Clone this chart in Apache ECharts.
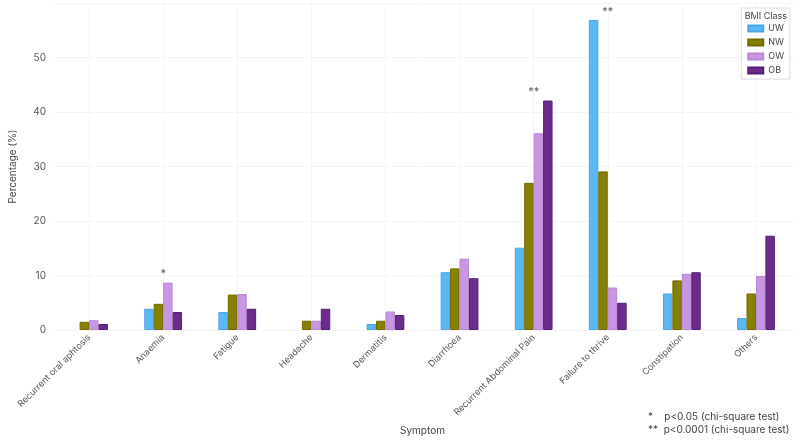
<!DOCTYPE html>
<html style="height:100%">
<head>
    <meta charset="utf-8">
    <title>BMI Class symptoms</title>
    <script src="https://cdn.jsdelivr.net/npm/echarts@6/dist/echarts.min.js"></script>
</head>
<body style="height:100%;margin:0">
    <div id="main" style="width:797px;height:441px;"></div>
    <script type="text/javascript">
        var symptoms = ['Recurrent oral aphtosis', 'Anaemia', 'Fatigue', 'Headache', 'Dermatitis',
            'Diarrhoea', 'Recurrent Abdominal Pain', 'Failure to thrive', 'Constipation', 'Others'];
        var uw = [0, 3.9, 3.3, 0, 1.1, 10.6, 15.1, 56.9, 6.7, 2.2];
        var nw = [1.5, 4.8, 6.5, 1.7, 1.7, 11.3, 27.0, 29.1, 9.1, 6.7];
        var ow = [1.8, 8.7, 6.6, 1.7, 3.4, 13.1, 36.1, 7.8, 10.3, 9.9];
        var ob = [1.1, 3.3, 3.9, 3.9, 2.75, 9.5, 42.1, 5.0, 10.6, 17.3];
        var sigMarks = ['', '*', '', '', '', '', '**', '**', '', ''];
        var yTicks = [0, 10, 20, 30, 40, 50];

        var classes = ['UW', 'NW', 'OW', 'OB'];
        var colors = ['#5bb8f6', '#878000', '#c896e2', '#6b2c8c'];
        var borders = ['#4aa6e6', '#6f6900', '#b988d6', '#561f75'];
        var values = [uw, nw, ow, ob];

        var myChart = echarts.init(document.getElementById('main'));
        var font = 'Inter, "Liberation Sans", sans-serif';

        var series = classes.map(function (name, k) {
            return {
                name: name,
                type: 'bar',
                barGap: '0%',
                barCategoryGap: '49%',
                itemStyle: {
                    color: colors[k],
                    borderColor: borders[k],
                    borderWidth: 1
                },
                // zero-height bars are left empty so no border line is drawn
                data: values[k].map(function (v) { return v === 0 ? '-' : v; })
            };
        });

        // significance markers above each group's tallest bar
        series.push({
            name: 'sig',
            type: 'scatter',
            symbolSize: 0,
            silent: true,
            label: {
                show: true,
                position: 'top',
                distance: 3,
                color: '#333',
                fontSize: 11,
                fontFamily: font,
                formatter: function (p) { return sigMarks[p.dataIndex]; }
            },
            data: symptoms.map(function (s, i) {
                return Math.max(uw[i], nw[i], ow[i], ob[i]);
            })
        });

        var option = {
            backgroundColor: '#fff',
            animation: false,
            textStyle: { fontFamily: font },
            grid: { left: 46, right: 4, top: 3, bottom: 111 },
            legend: {
                data: classes,
                orient: 'vertical',
                right: 7,
                top: 8,
                padding: [16, 6, 4, 6],
                borderColor: '#dcdcdc',
                borderWidth: 1,
                itemWidth: 15,
                itemHeight: 6,
                itemGap: 5,
                icon: 'rect',
                textStyle: { fontSize: 9, color: '#444', fontFamily: font }
            },
            graphic: [{
                type: 'text',
                right: 10,
                top: 12,
                style: { text: 'BMI Class', fontSize: 9, fill: '#444', fontFamily: font }
            }, {
                type: 'text',
                left: 648,
                top: 410,
                style: {
                    text: '*    p<0.05 (chi-square test)\n**  p<0.0001 (chi-square test)',
                    fontSize: 10, lineHeight: 13, fill: '#444', fontFamily: font
                }
            }],
            xAxis: {
                type: 'category',
                data: symptoms,
                name: 'Symptom',
                nameLocation: 'middle',
                nameGap: 96,
                nameTextStyle: { fontSize: 10, color: '#444' },
                axisLine: { show: false },
                axisTick: { show: false },
                axisLabel: { rotate: 45, fontSize: 9, color: '#555', margin: 6, interval: 0 },
                splitLine: { show: true, alignWithLabel: true, lineStyle: { color: '#f5f5f5' } },
                boundaryGap: true
            },
            yAxis: {
                type: 'value',
                min: 0,
                max: 60,
                interval: 10,
                name: 'Percentage (%)',
                nameLocation: 'middle',
                nameGap: 34,
                nameTextStyle: { fontSize: 10, color: '#444' },
                axisLine: { show: false },
                axisTick: { show: false },
                axisLabel: {
                    fontSize: 10, color: '#555', margin: 6, showMaxLabel: false,
                    formatter: function (v) { return yTicks.indexOf(v) >= 0 ? v : ''; }
                },
                splitLine: { lineStyle: { color: '#f5f5f5' } }
            },
            series: series
        };

        myChart.setOption(option);
    </script>
</body>
</html>
